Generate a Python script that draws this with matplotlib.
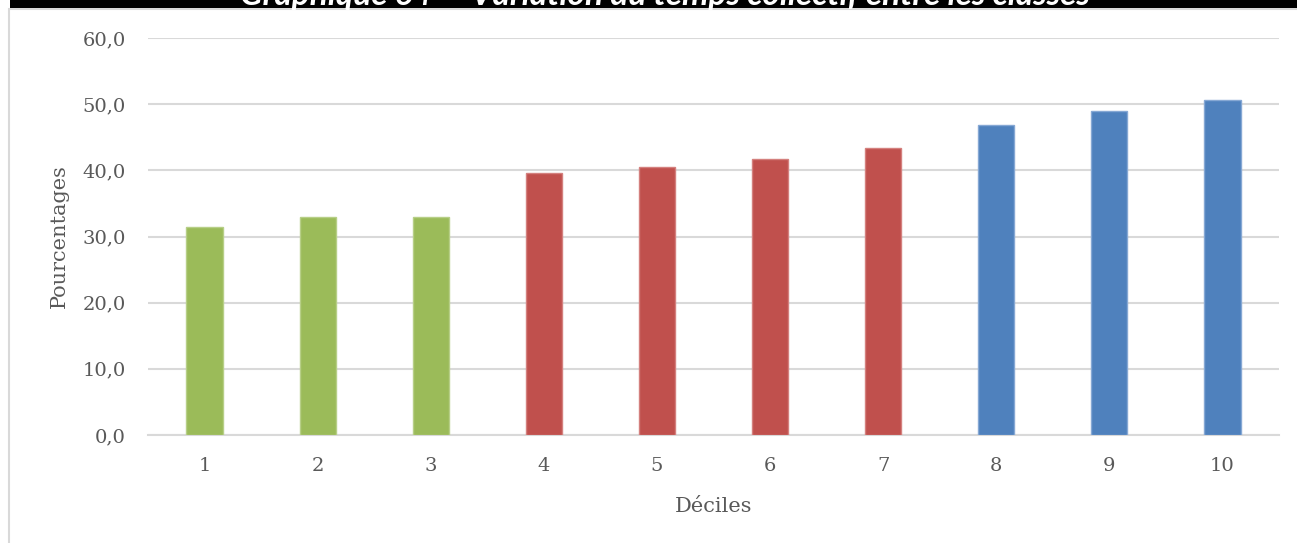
import matplotlib.pyplot as plt
from matplotlib.patches import Rectangle
from matplotlib.ticker import FuncFormatter

# données
deciles = ['1', '2', '3', '4', '5', '6', '7', '8', '9', '10']
valeurs = [31.4, 32.9, 32.9, 39.6, 40.5, 41.7, 43.4, 46.9, 48.9, 50.6]
couleurs = ['#9BBB59'] * 3 + ['#C0504D'] * 4 + ['#4F81BD'] * 3
bords = ['#B7CF87'] * 3 + ['#D4807E'] * 4 + ['#86A8D4'] * 3

plt.rcParams['font.family'] = ['DejaVu Serif']

fig = plt.figure(figsize=(12.97, 5.43), dpi=100)
ax = fig.add_axes([148 / 1297, 1 - 435 / 543, (1279 - 148) / 1297, (435 - 38) / 543])

x = range(1, len(deciles) + 1)
ax.bar(x, valeurs, width=0.32, color=couleurs, edgecolor=bords, linewidth=1, zorder=3)

ax.set_xlim(0.5, 10.5)
ax.set_ylim(0, 60)
ax.set_yticks(range(0, 61, 10))
ax.set_xticks(list(x))
ax.set_xticklabels(deciles)
ax.yaxis.set_major_formatter(FuncFormatter(lambda v, p: f"{v:.1f}".replace('.', ',')))
ax.grid(axis='y', color='#D9D9D9', linewidth=1.5, zorder=0)
for s in ['top', 'right', 'left']:
    ax.spines[s].set_visible(False)
ax.spines['bottom'].set_color('#D9D9D9')
ax.spines['bottom'].set_linewidth(1.5)
ax.tick_params(axis='both', length=0, labelsize=14, labelcolor='#595959')
ax.tick_params(axis='y', pad=16)
ax.tick_params(axis='x', pad=16)

ax.set_xlabel('Déciles', fontsize=15, color='#595959', labelpad=16)
ax.set_ylabel('Pourcentages', fontsize=15, color='#595959', labelpad=10)

# cadre gris clair et bandeau noir du titre coupé
fig.patches.append(Rectangle((9 / 1297, -0.1), 1.2, 1.1 - 9 / 543, transform=fig.transFigure,
                             fill=False, edgecolor='#D9D9D9', linewidth=1.5))
fig.patches.append(Rectangle((10 / 1297, 1 - 8 / 543), 1, 8 / 543, transform=fig.transFigure,
                             facecolor='black', edgecolor='none'))
fig.text(665 / 1297, 1 - 5 / 543, 'Graphique 64 — Variation du temps collectif entre les classes',
         ha='center', va='baseline', color='white', fontsize=24, fontweight='bold', style='italic',
         family=['Lato', 'DejaVu Sans'])

fig.savefig('out.png', dpi=100)
